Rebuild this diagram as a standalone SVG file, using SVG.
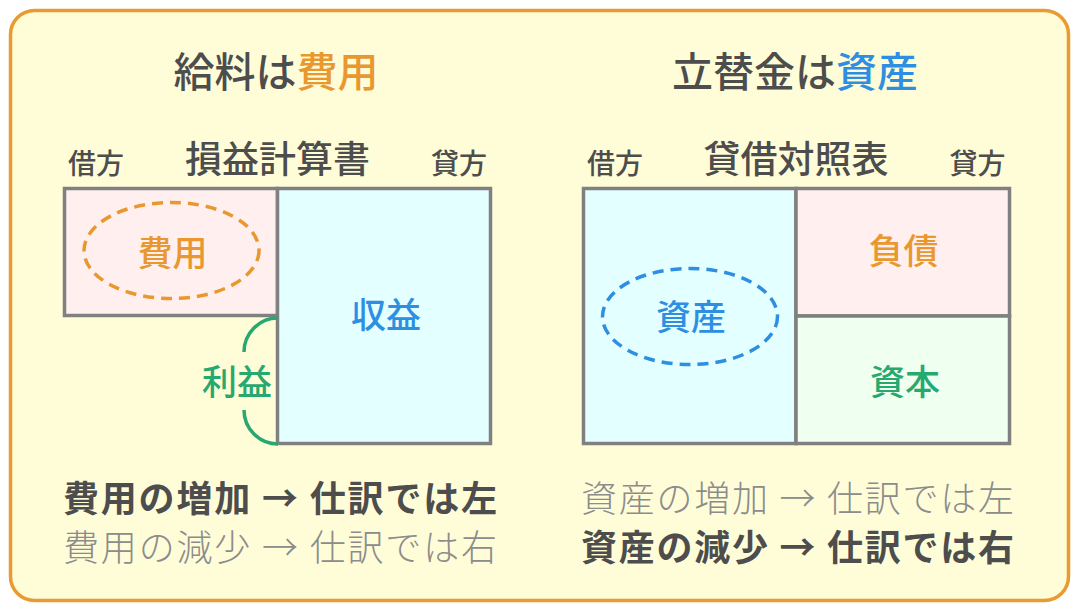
<svg xmlns="http://www.w3.org/2000/svg" width="1080" height="612" viewBox="0 0 1080 612">
  <style>
    text { font-family: "Noto Sans CJK JP", "Noto Sans CJK SC", sans-serif; }
    .dark { fill: #4d4d4d; }
    .title { font-size: 41px; font-weight: 500; text-anchor: middle; }
    .side { font-size: 28px; font-weight: 500; text-anchor: middle; fill: #4d4d4d; }
    .head { font-size: 37px; font-weight: 500; text-anchor: middle; fill: #4d4d4d; }
    .lbl { font-size: 35px; font-weight: 500; text-anchor: middle; }
    .orange { fill: #e9982f; }
    .blue { fill: #2e8fe2; }
    .green { fill: #27a86f; }
    .cell { stroke: #808080; stroke-width: 3.5; }
    .pink { fill: #fff0ef; }
    .cyan { fill: #e3ffff; }
    .mint { fill: #effff0; }
    .oval { fill: none; stroke-width: 3.5; stroke-dasharray: 11 7; }
    .bold { font-size: 36px; font-weight: 700; fill: #4d4d4d; }
    .light { font-size: 36px; font-weight: 200; fill: #8c8c8c; }
  </style>

  <g id="frame">
    <rect x="10.5" y="10.5" width="1058" height="590" rx="24" ry="24" fill="#fffdd8" stroke="#e99a30" stroke-width="3.5"/>
  </g>

  <g id="left-title">
    <text class="title" x="276" y="87"><tspan class="dark">給料は</tspan><tspan class="orange">費用</tspan></text>
  </g>

  <g id="left-headers">
    <text class="side" x="96" y="173.5">借方</text>
    <text class="head" x="277.5" y="173">損益計算書</text>
    <text class="side" x="459" y="173.5">貸方</text>
  </g>

  <g id="node-expense">
    <rect class="cell pink" x="64.5" y="188.5" width="213" height="127"/>
    <ellipse class="oval" cx="171.5" cy="250.5" rx="87.5" ry="48" stroke="#e9982f"/>
    <text class="lbl orange" x="172.5" y="265.5">費用</text>
  </g>

  <g id="node-revenue">
    <rect class="cell cyan" x="277.5" y="188.5" width="213" height="255"/>
    <text class="lbl blue" x="386" y="328">収益</text>
  </g>

  <g id="node-profit">
    <path d="M278,318 A34,34 0 0 0 244,352 M244,410 A34,34 0 0 0 278,444" fill="none" stroke="#27a86f" stroke-width="3.5"/>
    <text class="lbl green" x="237" y="394.5">利益</text>
  </g>

  <g id="left-notes">
    <text class="bold" x="63" y="512" textLength="434" lengthAdjust="spacing">費用の増加 → 仕訳では左</text>
    <text class="light" x="63" y="560.5" textLength="434" lengthAdjust="spacing">費用の減少 → 仕訳では右</text>
  </g>

  <g id="right-title">
    <text class="title" x="795" y="87"><tspan class="dark">立替金は</tspan><tspan class="blue">資産</tspan></text>
  </g>

  <g id="right-headers">
    <text class="side" x="615" y="173.5">借方</text>
    <text class="head" x="796" y="173">貸借対照表</text>
    <text class="side" x="977.5" y="173.5">貸方</text>
  </g>

  <g id="node-asset">
    <rect class="cell cyan" x="583.5" y="188.5" width="212.5" height="255"/>
    <ellipse class="oval" cx="690" cy="316.5" rx="87.5" ry="48" stroke="#2e8fe2"/>
    <text class="lbl blue" x="691" y="329.5">資産</text>
  </g>

  <g id="node-liability">
    <rect class="cell pink" x="796" y="188.5" width="213.5" height="127.5"/>
    <text class="lbl orange" x="903.5" y="263.5">負債</text>
  </g>

  <g id="node-equity">
    <rect class="cell mint" x="796" y="316" width="213.5" height="127.5"/>
    <text class="lbl green" x="905" y="395">資本</text>
  </g>

  <g id="right-notes">
    <text class="light" x="581" y="512" textLength="433" lengthAdjust="spacing">資産の増加 → 仕訳では左</text>
    <text class="bold" x="581" y="560.5" textLength="433" lengthAdjust="spacing">資産の減少 → 仕訳では右</text>
  </g>

  <g id="connectors"></g>
</svg>
